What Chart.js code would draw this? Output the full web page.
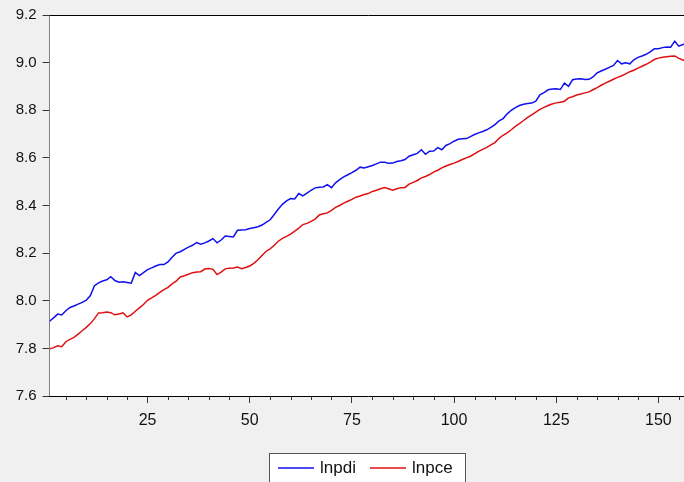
<!DOCTYPE html>
<html lang="en">

<head>
    <meta charset="UTF-8">
    <title>lnpdi and lnpce</title>
    <script src="https://cdn.jsdelivr.net/npm/chart.js"></script>
    <style>
        body { margin: 0; background: #f0f0f0; overflow: hidden; }
    </style>
</head>

<body>
    <canvas id="myChart" width="687" height="482"></canvas>

    <script>
        // log personal disposable income
        const lnpdi = [
            7.914, 7.928, 7.944, 7.940, 7.958, 7.972, 7.978, 7.986, 7.993, 8.002,
            8.022, 8.063, 8.075, 8.083, 8.088, 8.101, 8.085, 8.078, 8.080, 8.077,
            8.074, 8.119, 8.106, 8.118, 8.131, 8.138, 8.146, 8.152, 8.152, 8.163,
            8.183, 8.200, 8.206, 8.216, 8.225, 8.233, 8.244, 8.237, 8.243, 8.251,
            8.261, 8.243, 8.255, 8.272, 8.270, 8.268, 8.296, 8.297, 8.298, 8.303,
            8.307, 8.311, 8.318, 8.329, 8.340, 8.362, 8.385, 8.405, 8.419, 8.429,
            8.427, 8.450, 8.440, 8.452, 8.464, 8.474, 8.477, 8.478, 8.488, 8.475,
            8.495, 8.509, 8.520, 8.529, 8.538, 8.548, 8.561, 8.558, 8.563, 8.568,
            8.575, 8.582, 8.582, 8.577, 8.578, 8.585, 8.588, 8.593, 8.607, 8.613,
            8.619, 8.634, 8.615, 8.628, 8.629, 8.643, 8.634, 8.652, 8.660, 8.670,
            8.678, 8.680, 8.681, 8.689, 8.698, 8.705, 8.711, 8.718, 8.728, 8.740,
            8.755, 8.765, 8.785, 8.800, 8.811, 8.820, 8.825, 8.828, 8.830, 8.838,
            8.865, 8.874, 8.886, 8.889, 8.890, 8.887, 8.914, 8.900, 8.928, 8.931,
            8.932, 8.929, 8.930, 8.940, 8.957, 8.965, 8.972, 8.980, 8.988, 9.009,
            8.995, 8.999, 8.995, 9.012, 9.022, 9.028, 9.035, 9.045, 9.058, 9.058,
            9.063, 9.066, 9.065, 9.090, 9.069, 9.076, 9.078
        ];

        // log personal consumption expenditure
        const lnpce = [
            7.798, 7.803, 7.811, 7.807, 7.828, 7.838, 7.846, 7.860, 7.874, 7.888,
            7.904, 7.925, 7.949, 7.950, 7.953, 7.950, 7.941, 7.944, 7.949, 7.932,
            7.941, 7.956, 7.970, 7.984, 8.002, 8.012, 8.023, 8.035, 8.047, 8.056,
            8.071, 8.082, 8.100, 8.105, 8.111, 8.118, 8.121, 8.122, 8.133, 8.135,
            8.132, 8.110, 8.120, 8.134, 8.137, 8.138, 8.142, 8.135, 8.140, 8.146,
            8.157, 8.172, 8.190, 8.208, 8.218, 8.233, 8.250, 8.262, 8.270, 8.280,
            8.292, 8.305, 8.320, 8.325, 8.333, 8.343, 8.360, 8.365, 8.369, 8.380,
            8.392, 8.400, 8.410, 8.418, 8.426, 8.435, 8.440, 8.446, 8.450, 8.459,
            8.464, 8.470, 8.475, 8.470, 8.464, 8.470, 8.475, 8.476, 8.490, 8.497,
            8.505, 8.516, 8.522, 8.530, 8.540, 8.548, 8.558, 8.566, 8.572, 8.578,
            8.585, 8.593, 8.600, 8.607, 8.617, 8.627, 8.636, 8.644, 8.655, 8.664,
            8.682, 8.695, 8.705, 8.718, 8.732, 8.744, 8.757, 8.770, 8.781, 8.792,
            8.804, 8.812, 8.820, 8.826, 8.831, 8.834, 8.838, 8.852, 8.857, 8.864,
            8.868, 8.873, 8.877, 8.886, 8.895, 8.905, 8.914, 8.922, 8.930, 8.938,
            8.945, 8.953, 8.962, 8.968, 8.977, 8.985, 8.993, 9.002, 9.013, 9.019,
            9.023, 9.025, 9.027, 9.028, 9.018, 9.011, 9.006
        ];

        const xTicks = [ 25, 50, 75, 100, 125, 150 ];
        const yTicks = [ 7.6, 7.8, 8.0, 8.2, 8.4, 8.6, 8.8, 9.0, 9.2 ];
        const seriesNames = [ 'lnpdi', 'lnpce' ];
        const seriesColors = [ '#1010f0', '#e01010' ];

        // observation numbers 1..n
        const obs = lnpdi.map( ( _, i ) => i + 1 );
        const font = '"Liberation Sans", Arial, sans-serif';

        const toPoints = ( values ) => values.map( ( v, i ) => ( { x: obs[ i ], y: v } ) );

        // white plot area, top frame line, minor x ticks and boxed legend
        const framePlugin = {
            id: 'frame',
            beforeDatasetsDraw( chart ) {
                const { ctx, chartArea: a } = chart;
                ctx.save();
                ctx.fillStyle = '#ffffff';
                ctx.fillRect( a.left, a.top, a.right - a.left, a.bottom - a.top );
                ctx.restore();
            },
            afterDraw( chart ) {
                const { ctx, chartArea: a, scales: { x } } = chart;
                ctx.save();
                ctx.strokeStyle = '#000000';
                ctx.lineWidth = 1;
                ctx.beginPath();
                ctx.moveTo( a.left, Math.round( a.top ) + 0.5 );
                ctx.lineTo( a.right, Math.round( a.top ) + 0.5 );
                ctx.stroke();

                ctx.strokeStyle = '#333333';
                ctx.beginPath();
                for ( let v = 5; v < x.max; v += 5 ) {
                    if ( v % 25 === 0 ) continue;
                    const px = Math.round( x.getPixelForValue( v ) ) + 0.5;
                    ctx.moveTo( px, a.bottom );
                    ctx.lineTo( px, a.bottom + 4 );
                }
                ctx.stroke();

                // legend
                ctx.fillStyle = '#ffffff';
                ctx.fillRect( 269.5, 453.5, 196, 40 );
                ctx.strokeStyle = '#555555';
                ctx.strokeRect( 269.5, 453.5, 196, 40 );
                const starts = [ 278, 370 ];
                ctx.font = '17px ' + font;
                ctx.textBaseline = 'middle';
                chart.data.datasets.forEach( ( ds, i ) => {
                    ctx.strokeStyle = ds.borderColor;
                    ctx.lineWidth = 1.5;
                    ctx.beginPath();
                    ctx.moveTo( starts[ i ], 468 );
                    ctx.lineTo( starts[ i ] + 36, 468 );
                    ctx.stroke();
                    ctx.fillStyle = '#111111';
                    ctx.fillText( ds.label, starts[ i ] + 42, 468 );
                } );
                ctx.restore();
            }
        };

        const ctx = document.getElementById( 'myChart' ).getContext( '2d' );
        const myChart = new Chart( ctx, {
            type: 'line',
            data: {
                datasets: [
                    { label: seriesNames[ 0 ], data: toPoints( lnpdi ), borderColor: seriesColors[ 0 ], borderWidth: 1.5, pointRadius: 0, tension: 0 },
                    { label: seriesNames[ 1 ], data: toPoints( lnpce ), borderColor: seriesColors[ 1 ], borderWidth: 1.5, pointRadius: 0, tension: 0 }
                ]
            },
            options: {
                responsive: false,
                animation: false,
                layout: { padding: { top: 14.5, right: 0, left: 0, bottom: 0 } },
                plugins: {
                    legend: { display: false },
                    tooltip: { enabled: false }
                },
                scales: {
                    x: {
                        type: 'linear',
                        min: 1,
                        max: 157,
                        afterBuildTicks: s => { s.ticks = xTicks.map( v => ( { value: v } ) ); },
                        afterFit: s => { s.height = 86; },
                        grid: { drawOnChartArea: false, tickLength: 7, tickColor: '#333333' },
                        border: { color: '#000000', width: 1 },
                        ticks: { color: '#111111', font: { family: font, size: 16 }, padding: 8, maxRotation: 0, autoSkip: false }
                    },
                    y: {
                        min: 7.6,
                        max: 9.2,
                        afterBuildTicks: s => { s.ticks = yTicks.map( v => ( { value: v } ) ); },
                        afterFit: s => { s.width = 49.5; },
                        grid: { drawOnChartArea: false, tickLength: 7, tickColor: '#333333' },
                        border: { color: '#000000', width: 1 },
                        ticks: { color: '#111111', font: { family: font, size: 15 }, padding: 6, callback: v => v.toFixed( 1 ) }
                    }
                }
            },
            plugins: [ framePlugin ]
        } );
    </script>
</body>

</html>
